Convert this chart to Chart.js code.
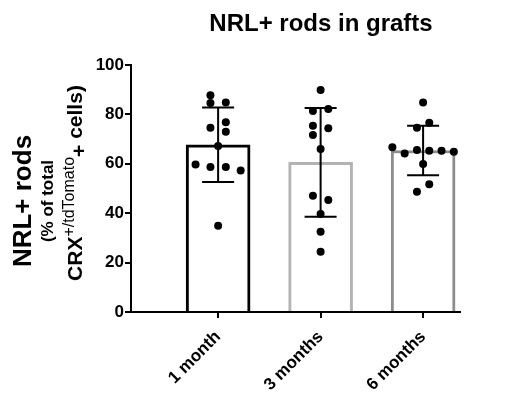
<!DOCTYPE html>
<html>
<head>
<meta charset="utf-8">
<script src="https://cdn.jsdelivr.net/npm/chart.js@4.4.1/dist/chart.umd.min.js"></script>
<style>
    html, body { margin: 0; padding: 0; background: #fff; }
    #wrap { position: relative; width: 508px; height: 395px; font-family: "Liberation Sans", Arial, sans-serif; color: #000; }
    #title { position: absolute; left: 321px; top: 9px; transform: translateX(-50%); font-weight: bold; font-size: 24px; white-space: nowrap; }
    .yl { position: absolute; transform: translate(-50%, -50%) rotate(-90deg); font-weight: bold; white-space: nowrap; line-height: 1; }
    .yl sup { font-size: 16px; font-weight: normal; vertical-align: 8px; line-height: 0; }
    .yl .low { position: relative; top: 4px; }
</style>
</head>
<body>
<div id="wrap">
    <canvas id="chart"></canvas>
    <div id="title">NRL+ rods in grafts</div>
    <div class="yl" style="left:22px; top:201px; font-size:26px;">NRL+ rods</div>
    <div class="yl" style="left:47px; top:201px; font-size:17px;">(% of total</div>
    <div class="yl" style="left:74px; top:183px; font-size:21px;">CRX<sup>+/tdTomato</sup><span class="low">+</span> cells)</div>
</div>
<script>
const categories = ['1 month', '3 months', '6 months'];
const means = [67.7, 60.6, 65.4];
const sds = [15.1, 22.0, 10.0];
const yTicks = [0, 20, 40, 60, 80, 100];

// individual grafts, with horizontal scatter offset (in category units)
const points1m = [87.8, 84.6, 84.8, 76.8, 74.6, 73.0, 67.2, 59.7, 58.7, 58.7, 57.3, 34.9];
const jitter1m = [-0.075, -0.075, 0.075, 0.075, -0.075, 0.075, 0, -0.22, -0.075, 0.075, 0.22, 0];
const points3m = [89.9, 82.2, 81.4, 75.4, 74.4, 71.7, 66.0, 47.1, 45.3, 39.7, 32.5, 24.4];
const jitter3m = [0, 0.075, -0.075, -0.075, 0.075, -0.075, 0, -0.075, 0.075, 0, 0, 0];
const points6m = [84.8, 76.6, 74.6, 66.7, 64.2, 65.6, 65.3, 65.3, 64.9, 59.9, 51.7, 48.7];
const jitter6m = [0, 0.06, -0.06, -0.3, -0.18, -0.06, 0.06, 0.18, 0.3, 0, 0.06, -0.06];

const barColors = ['#000000', '#b3b3b3', '#8c8c8c'];
const FONT = "'Liberation Sans', Arial, sans-serif";

const errorBars = {
    id: 'errorBars',
    afterDatasetDraw(chart, args) {
        if (args.index !== 0) return;
        const { ctx } = chart;
        const x = chart.scales.x;
        const y = chart.scales.y;
        ctx.save();
        ctx.strokeStyle = '#000';
        ctx.lineWidth = 2;
        means.forEach((m, i) => {
            const px = x.getPixelForValue(i + 1);
            const top = y.getPixelForValue(m + sds[i]);
            const bot = y.getPixelForValue(m - sds[i]);
            ctx.beginPath();
            ctx.moveTo(px, top); ctx.lineTo(px, bot);
            ctx.moveTo(px - 16, top); ctx.lineTo(px + 16, top);
            ctx.moveTo(px - 16, bot); ctx.lineTo(px + 16, bot);
            ctx.stroke();
        });
        ctx.restore();
    }
};

function scatterSet(values, jitter, idx) {
    return {
        type: 'scatter',
        order: 1,
        data: values.map((v, j) => ({ x: idx + 1 + jitter[j], y: v })),
        backgroundColor: '#000',
        borderWidth: 0,
        pointRadius: 4,
    };
}

new Chart(document.getElementById('chart'), {
    type: 'bar',
    data: {
        datasets: [
            {
                type: 'bar',
                order: 2,
                data: means.map((m, i) => ({ x: i + 1, y: m })),
                backgroundColor: '#fff',
                borderColor: barColors,
                borderWidth: 3,
                barThickness: 64,
            },
            scatterSet(points1m, jitter1m, 0),
            scatterSet(points3m, jitter3m, 1),
            scatterSet(points6m, jitter6m, 2),
        ],
    },
    options: {
        responsive: true,
        maintainAspectRatio: false,
        animation: false,
        layout: { padding: { left: 95, right: 48, top: 65, bottom: 0 } },
        plugins: {
            legend: { display: false },
            tooltip: { enabled: false },
        },
        scales: {
            x: {
                type: 'linear',
                min: 0.15,
                max: 3.36,
                offset: false,
                afterBuildTicks: (axis) => {
                    axis.ticks = categories.map((c, i) => ({ value: i + 1 }));
                },
                afterFit: (axis) => { axis.height = 83; },
                ticks: {
                    color: '#000',
                    font: { size: 17, weight: 'bold', family: FONT },
                    minRotation: 45,
                    maxRotation: 45,
                    autoSkip: false,
                    padding: 9,
                    callback: v => categories[Math.round(v) - 1],
                },
                grid: { drawOnChartArea: false, offset: false, color: '#000', lineWidth: 2, tickLength: 6 },
                border: { color: '#000', width: 2 },
            },
            y: {
                min: 0,
                max: 100,
                afterBuildTicks: (axis) => {
                    axis.ticks = yTicks.map(v => ({ value: v }));
                },
                afterFit: (axis) => { axis.width = 36; },
                ticks: {
                    color: '#000',
                    font: { size: 17, weight: 'bold', family: FONT },
                    padding: 1,
                },
                grid: { drawOnChartArea: false, color: '#000', lineWidth: 2, tickLength: 6 },
                border: { color: '#000', width: 2 },
            },
        },
    },
    plugins: [errorBars],
});
</script>
</body>
</html>
